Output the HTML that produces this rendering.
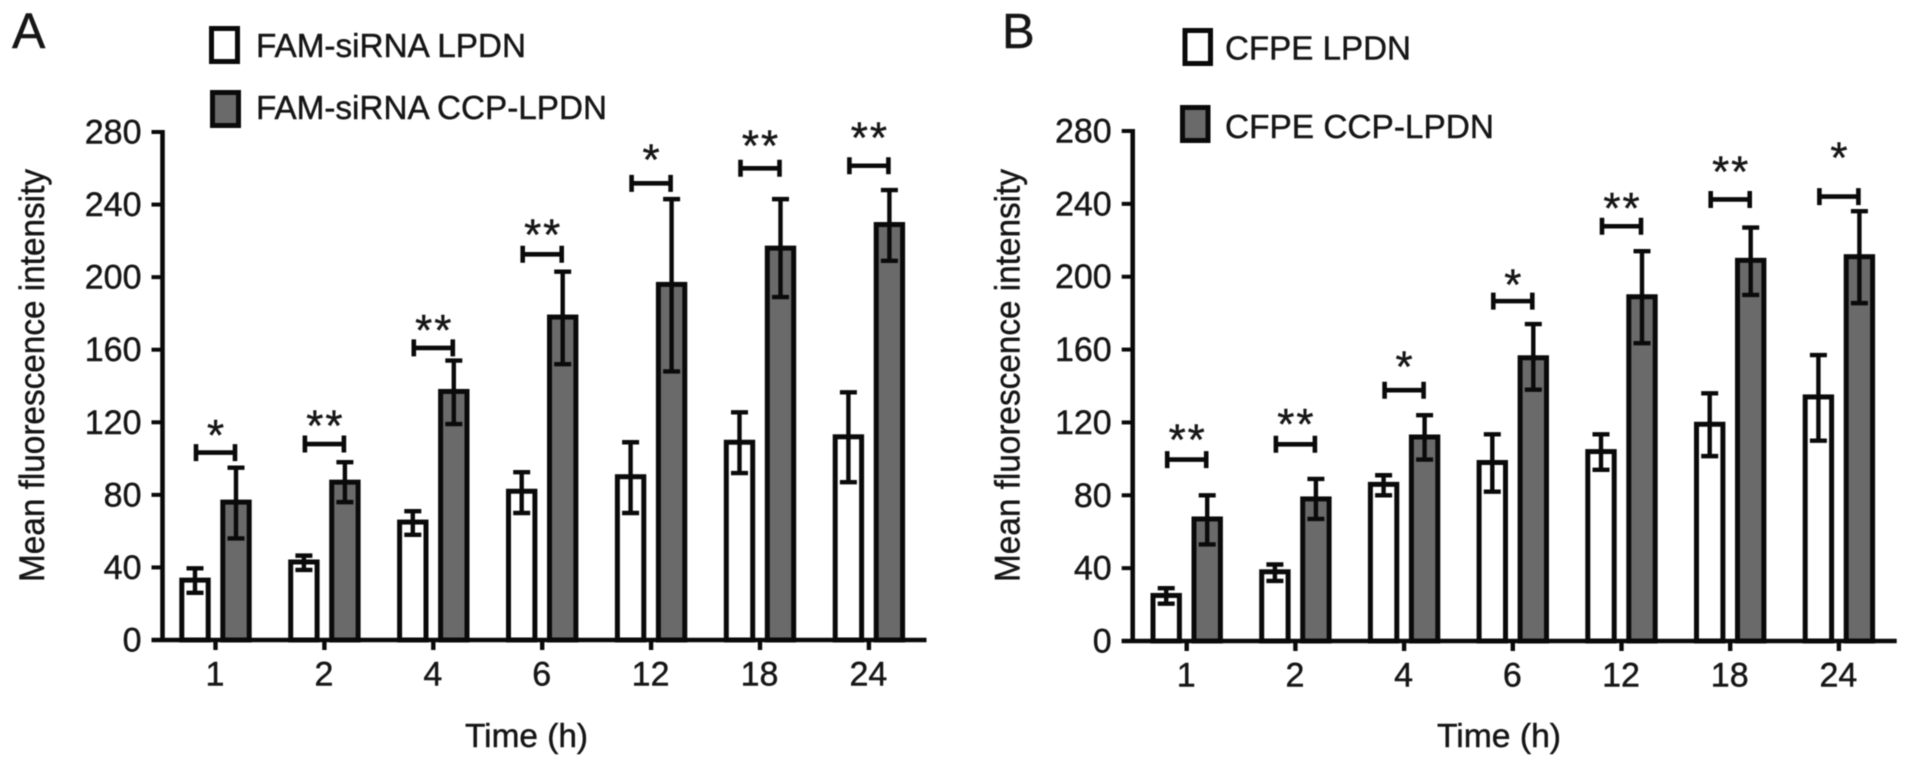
<!DOCTYPE html>
<html lang="en">
<head>
<meta charset="utf-8">
<title>Mean fluorescence intensity over time</title>
<style>
  html, body { margin: 0; padding: 0; background: #fff; }
  body { width: 1913px; height: 766px; overflow: hidden; }
  svg { display: block; filter: blur(0.65px); }
  text { font-family: "Liberation Sans", sans-serif; fill: #161616; stroke: #161616; stroke-width: 0.45px; }
</style>
</head>
<body>
<svg id="figure" xmlns="http://www.w3.org/2000/svg" width="1913" height="766" viewBox="0 0 1913 766">
  <rect x="0" y="0" width="1913" height="766" fill="#fff"/>

  <text x="12" y="48" font-size="50">A</text>
  <text x="1002" y="48" font-size="49">B</text>

  <g>
    <rect x="211.5" y="28.5" width="26" height="33" fill="#fff" stroke="#0a0a0a" stroke-width="5"/>
    <text x="256" y="57" font-size="33" textLength="270" lengthAdjust="spacingAndGlyphs">FAM-siRNA LPDN</text>
    <rect x="212.5" y="92.5" width="26" height="33" fill="#6a6a6a" stroke="#0a0a0a" stroke-width="5"/>
    <text x="256" y="119" font-size="33" textLength="351" lengthAdjust="spacingAndGlyphs">FAM-siRNA CCP-LPDN</text>
  </g>

  <g>
    <rect x="1185" y="30.5" width="25.5" height="33" fill="#fff" stroke="#0a0a0a" stroke-width="5"/>
    <text x="1225" y="59.5" font-size="33" textLength="186" lengthAdjust="spacingAndGlyphs">CFPE LPDN</text>
    <rect x="1182.5" y="107.5" width="25.5" height="33" fill="#6a6a6a" stroke="#0a0a0a" stroke-width="5"/>
    <text x="1225" y="138" font-size="33" textLength="269" lengthAdjust="spacingAndGlyphs">CFPE CCP-LPDN</text>
  </g>

  <text transform="translate(44,582) rotate(-90)" font-size="35" textLength="413" lengthAdjust="spacingAndGlyphs">Mean fluorescence intensity</text>
  <text transform="translate(1019.5,582) rotate(-90)" font-size="35" textLength="413" lengthAdjust="spacingAndGlyphs">Mean fluorescence intensity</text>
  <text x="465" y="747" font-size="33" textLength="123" lengthAdjust="spacingAndGlyphs">Time (h)</text>
  <text x="1437" y="747" font-size="33" textLength="124" lengthAdjust="spacingAndGlyphs">Time (h)</text>
</svg>

<script>
// Shared categories and axis ticks
const categories = ['1', '2', '4', '6', '12', '18', '24'];
const yTicks = [0, 40, 80, 120, 160, 200, 240, 280];

// Panel A values
const aWhite = [33, 43, 65, 82, 90, 109, 112];
const aWhiteHigh = [39.5, 46.5, 71, 92.5, 109, 125.5, 136.5];
const aWhiteLow = [26, 38.6, 58, 70, 70, 92, 87];
const aDark = [76, 87, 137, 178, 196, 216, 229];
const aDarkHigh = [95, 98, 154, 203, 243, 243, 248];
const aDarkLow = [56, 76, 119, 152, 148, 189, 209];
const aBracketLevel = [103.3, 108, 161, 212.6, 251.7, 260, 261.4];
const aStarLevel = [116.8, 122.2, 174.8, 227.4, 268.7, 276.5, 280.8];
const aStars = ['*', '**', '**', '**', '*', '**', '**'];

// Panel B values
const bWhite = [25, 38, 86, 98, 104, 119, 134];
const bWhiteHigh = [29, 42, 91, 113.5, 113.5, 136, 157];
const bWhiteLow = [20.5, 33, 80, 82, 94, 101.5, 110];
const bDark = [67, 78, 112, 155.5, 189, 209, 211];
const bDarkHigh = [80, 89, 124, 174, 214, 227, 236];
const bDarkLow = [53, 67, 99.6, 138, 163.5, 190, 185.5];
const bBracketLevel = [99.6, 108, 137.7, 186.6, 227.7, 242.4, 244];
const bStarLevel = [114.4, 123, 154.6, 199.5, 241.6, 261.5, 269.3];
const bStars = ['**', '**', '*', '*', '**', '**', '*'];

const NS = 'http://www.w3.org/2000/svg';
const INK = '#0a0a0a';
const svg = document.getElementById('figure');

function make(tag, attrs, parent) {
  const node = document.createElementNS(NS, tag);
  for (const key in attrs) node.setAttribute(key, attrs[key]);
  parent.appendChild(node);
  return node;
}

function drawPanel(p) {
  const yScale = v => p.y0 + (p.y280 - p.y0) * v / 280;
  const xScale = i => p.x0 + p.step * i;

  const root = make('g', {}, svg);
  
  

  function bar(i, cx, value, fill, name) {
    const r = make('rect', {
      x: cx - 13.2, y: yScale(value), width: 26.4, height: p.y0 - yScale(value),
      fill: fill, stroke: INK, 'stroke-width': 5
    }, root);
    
    
  }

  function errorBar(i, cx, high, low, name) {
    const yH = yScale(high);
    const yL = yScale(low);
    const e = make('path', {
      d: 'M' + (cx - 8.5) + ' ' + yH + 'H' + (cx + 8.5) +
         'M' + cx + ' ' + yH + 'V' + yL +
         'M' + (cx - 8.5) + ' ' + yL + 'H' + (cx + 8.5),
      fill: 'none', stroke: INK, 'stroke-width': 4.4
    }, root);
    
    
  }

  categories.forEach((cat, i) => {
    const tx = xScale(i);
    const cw = tx - 20.5;
    const cd = tx + 20.5;
    bar(i, cw, p.white[i], '#ffffff', 'lpdn');
    bar(i, cd, p.dark[i], '#6a6a6a', 'ccp-lpdn');
    errorBar(i, cw, p.whiteHigh[i], p.whiteLow[i], 'lpdn');
    errorBar(i, cd, p.darkHigh[i], p.darkLow[i], 'ccp-lpdn');

    const by = yScale(p.bracket[i]);
    const br = make('path', {
      d: 'M' + (tx - 19.5) + ' ' + (by - 8.5) + 'V' + (by + 8.5) +
         'M' + (tx - 19.5) + ' ' + by + 'H' + (tx + 19.5) +
         'M' + (tx + 19.5) + ' ' + (by - 8.5) + 'V' + (by + 8.5),
      fill: 'none', stroke: INK, 'stroke-width': 4.6
    }, root);
    
    

    const st = make('text', {
      x: tx + 1, y: yScale(p.starLevel[i]) + 22, 'text-anchor': 'middle', 'font-size': 44, 'letter-spacing': 2
    }, root);
    st.textContent = p.stars[i];
    
    

    const tk = make('line', {
      x1: tx, x2: tx, y1: p.y0, y2: p.y0 + 10, stroke: INK, 'stroke-width': 4.4
    }, root);
    
    

    const lb = make('text', {
      x: tx - 0.5, y: p.y0 + 45.5, 'text-anchor': 'middle', 'font-size': 34
    }, root);
    lb.textContent = cat;
    
    
  });

  yTicks.forEach(v => {
    const ty = yScale(v);
    const tk = make('line', {
      x1: p.axisX - 11, x2: p.axisX, y1: ty, y2: ty, stroke: INK, 'stroke-width': 4
    }, root);
    
    

    const lb = make('text', {
      x: p.axisX - 21, y: ty + 11.5, 'text-anchor': 'end', 'font-size': 34
    }, root);
    lb.textContent = String(v);
    
    
  });

  const ya = make('line', {
    x1: p.axisX, x2: p.axisX, y1: p.y280 - 2, y2: p.y0 + 2, stroke: INK, 'stroke-width': 4.6
  }, root);
  
  

  const xa = make('line', {
    x1: p.axisX - 11, x2: p.axisEnd, y1: p.y0, y2: p.y0, stroke: INK, 'stroke-width': 4.6
  }, root);
  
  
}

drawPanel({
  id: 'panel-a', x0: 215.5, step: 108.9, axisX: 162.5, axisEnd: 926.5, y0: 640, y280: 132,
  white: aWhite, whiteHigh: aWhiteHigh, whiteLow: aWhiteLow,
  dark: aDark, darkHigh: aDarkHigh, darkLow: aDarkLow,
  bracket: aBracketLevel, starLevel: aStarLevel, stars: aStars
});

drawPanel({
  id: 'panel-b', x0: 1186.7, step: 108.7, axisX: 1132.7, axisEnd: 1896.7, y0: 641, y280: 131,
  white: bWhite, whiteHigh: bWhiteHigh, whiteLow: bWhiteLow,
  dark: bDark, darkHigh: bDarkHigh, darkLow: bDarkLow,
  bracket: bBracketLevel, starLevel: bStarLevel, stars: bStars
});
</script>
</body>
</html>
